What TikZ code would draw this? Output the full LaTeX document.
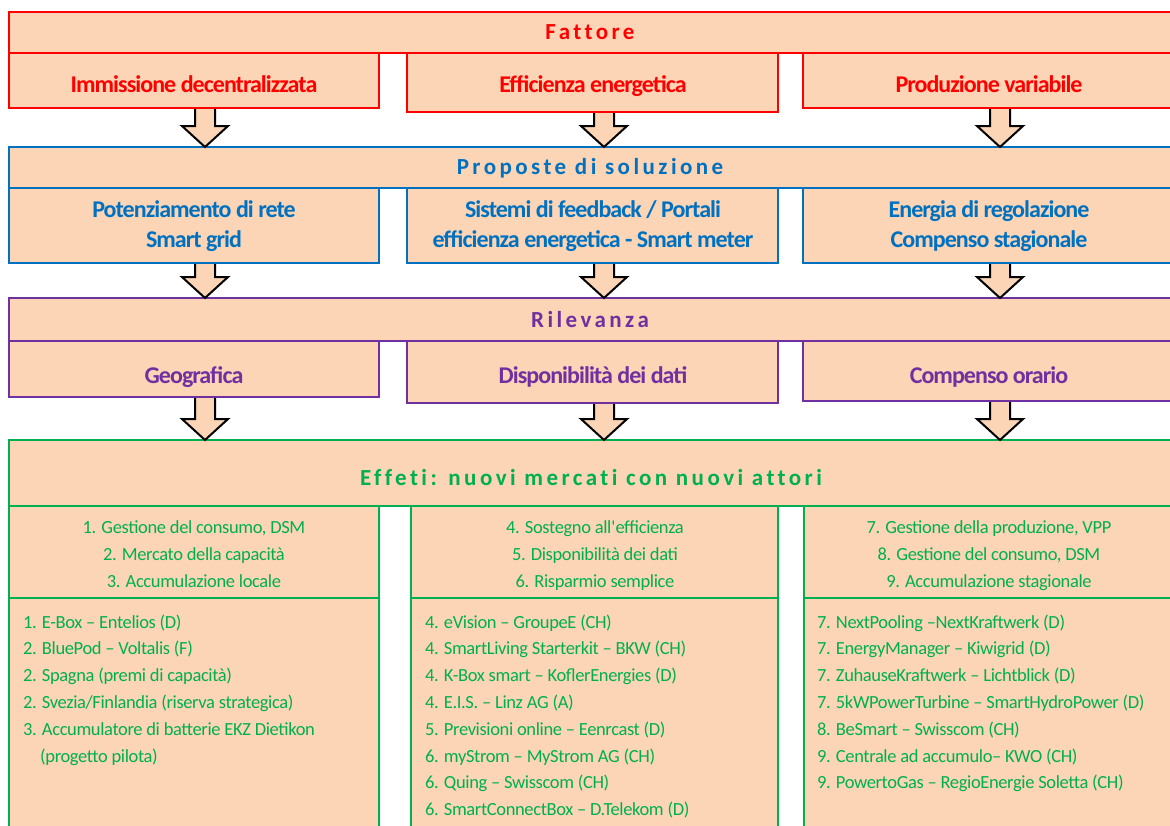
\documentclass[tikz,border=0pt]{standalone}
\usepackage{fontspec}
\setmainfont{Carlito}
\newfontfamily\hdfont[LetterSpace=15,Ligatures=NoCommon]{Carlito}
\newfontfamily\sbfont[LetterSpace=-4]{Carlito}
\newfontfamily\lsfont[LetterSpace=-2]{Carlito}
\usetikzlibrary{calc}
\definecolor{peach}{HTML}{FBD5B5}
\definecolor{cred}{HTML}{FF0000}
\definecolor{cblue}{HTML}{0070C0}
\definecolor{cpurple}{HTML}{7030A0}
\definecolor{cgreen}{HTML}{00B050}
\newcommand{\blockarrow}[3]{%
  \fill[peach] let \p1=(#1 |- #2.south), \p2=(#1 |- #3.north) in
    (\x1-10pt,\y1-1pt) -- (\x1-10pt,\y2+21pt) -- (\x1-23pt,\y2+21pt) -- (\x1,\y2)
    -- (\x1+23pt,\y2+21pt) -- (\x1+10pt,\y2+21pt) -- (\x1+10pt,\y1-1pt) -- cycle;
  \draw[arr] let \p1=(#1 |- #2.south), \p2=(#1 |- #3.north) in
    (\x1-10pt,\y1-1pt) -- (\x1-10pt,\y2+21pt) -- (\x1-23pt,\y2+21pt) -- (\x1,\y2)
    -- (\x1+23pt,\y2+21pt) -- (\x1+10pt,\y2+21pt) -- (\x1+10pt,\y1-1pt);}
\begin{document}
\begin{tikzpicture}[x=1pt,y=-1pt,
  box/.style={draw=#1, fill=peach, line width=2pt, inner sep=0pt, outer sep=0pt, anchor=north west},
  hd/.style={text=#1, font=\hdfont\bfseries\fontsize{23}{27}\selectfont, anchor=base, inner sep=0pt},
  sb/.style={text=#1, font=\sbfont\bfseries\fontsize{24}{30}\selectfont, anchor=base, align=center, inner sep=0pt},
  tl/.style={text=cgreen, font=\lsfont\fontsize{18.5}{27}\selectfont, anchor=base, inner sep=0pt},
  li/.style={text=cgreen, font=\lsfont\fontsize{18.5}{26.8}\selectfont, anchor=base west, inner sep=0pt},
  arr/.style={draw=black, line width=2pt, line join=miter},
]
\useasboundingbox (0,0) rectangle (1170,825);
\clip (0,0) rectangle (1170,825);
\fill[white] (0,0) rectangle (1170,825);

% ---------- Fattore (red)
\node[box=cred, minimum width=370pt, minimum height=55pt] (r1) at (9,53) {};
\node[box=cred, minimum width=371pt, minimum height=59pt] (r2) at (407,53) {};
\node[box=cred, minimum width=372pt, minimum height=55pt] (r3) at (803,53) {};
\node[box=cred, minimum width=1166pt, minimum height=41pt] (fatt) at (9,12) {};
\node[hd=cred] (tfatt) at (590,39) {Fattore};
\node[sb=cred] (tr1) at (194,92) {Immissione decentralizzata};
\node[sb=cred] (tr2) at (593,92) {Efficienza energetica};
\node[sb=cred] (tr3) at (989,92) {Produzione variabile};

% ---------- Proposte (blue)
\node[box=cblue, minimum width=370pt, minimum height=75pt] (b1) at (9,188) {};
\node[box=cblue, minimum width=371pt, minimum height=75pt] (b2) at (407,188) {};
\node[box=cblue, minimum width=372pt, minimum height=75pt] (b3) at (803,188) {};
\node[box=cblue, minimum width=1166pt, minimum height=41pt] (prop) at (9,147) {};
\node[hd=cblue] (tprop) at (590,174) {Proposte di soluzione};
\node[sb=cblue] (tb1) at (194,247) {Potenziamento di rete\\Smart grid};
\node[sb=cblue] (tb2) at (593,247) {Sistemi di feedback / Portali\\efficienza energetica - Smart meter};
\node[sb=cblue] (tb3) at (989,247) {Energia di regolazione\\Compenso stagionale};

% ---------- Rilevanza (purple)
\node[box=cpurple, minimum width=370pt, minimum height=56pt] (p1) at (9,341) {};
\node[box=cpurple, minimum width=371pt, minimum height=62pt] (p2) at (407,341) {};
\node[box=cpurple, minimum width=372pt, minimum height=60pt] (p3) at (803,341) {};
\node[box=cpurple, minimum width=1166pt, minimum height=43pt] (ril) at (9,298) {};
\node[hd=cpurple] (tril) at (590,327) {Rilevanza};
\node[sb=cpurple] (tp1) at (194,383) {Geografica};
\node[sb=cpurple] (tp2) at (593,383) {Disponibilità dei dati};
\node[sb=cpurple] (tp3) at (989,383) {Compenso orario};

% ---------- Effetti (green)
\node[box=cgreen, minimum width=370pt, minimum height=250pt] (g4) at (9,598) {};
\node[box=cgreen, minimum width=367pt, minimum height=250pt] (g5) at (411,598) {};
\node[box=cgreen, minimum width=371pt, minimum height=250pt] (g6) at (804,598) {};
\node[box=cgreen, minimum width=370pt, minimum height=92pt] (g1) at (9,506) {};
\node[box=cgreen, minimum width=367pt, minimum height=92pt] (g2) at (411,506) {};
\node[box=cgreen, minimum width=371pt, minimum height=92pt] (g3) at (804,506) {};
\node[box=cgreen, minimum width=1166pt, minimum height=66pt] (eff) at (9,440) {};
\node[hd=cgreen] (teff) at (591,485) {Effeti: nuovi mercati con nuovi attori};

\foreach \t [count=\i] in {{1. Gestione del consumo, DSM},{2. Mercato della capacità},{3. Accumulazione locale}}
  {\node[tl] (ta\i) at (194,{533+(\i-1)*27}) {\t};}
\foreach \t [count=\i] in {{4. Sostegno all\textquotesingle efficienza},{5. Disponibilità dei dati},{6. Risparmio semplice}}
  {\node[tl] (tb\i) at (595,{533+(\i-1)*27}) {\t};}
\foreach \t [count=\i] in {{7. Gestione della produzione, VPP},{8. Gestione del consumo, DSM},{9. Accumulazione stagionale}}
  {\node[tl] (tc\i) at (989,{533+(\i-1)*27}) {\t};}

\foreach \t [count=\i] in {{1. E-Box – Entelios (D)},{2. BluePod – Voltalis (F)},{2. Spagna (premi di capacità)},{2. Svezia/Finlandia (riserva strategica)},{3. Accumulatore di batterie EKZ Dietikon}}
  {\node[li] (la\i) at (23,{628+(\i-1)*26.8}) {\t};}
\node[li] (la6) at (40,{628+5*26.8}) {(progetto pilota)};
\foreach \t [count=\i] in {{4. eVision – GroupeE (CH)},{4. SmartLiving Starterkit – BKW (CH)},{4. K-Box smart – KoflerEnergies (D)},{4. E.I.S. – Linz AG (A)},{5. Previsioni online – Eenrcast (D)},{6. myStrom – MyStrom AG (CH)},{6. Quing – Swisscom (CH)},{6. SmartConnectBox – D.Telekom (D)}}
  {\node[li] (lb\i) at (425,{628+(\i-1)*26.8}) {\t};}
\foreach \t [count=\i] in {{7. NextPooling –NextKraftwerk (D)},{7. EnergyManager – Kiwigrid (D)},{7. ZuhauseKraftwerk – Lichtblick (D)},{7. 5kWPowerTurbine – SmartHydroPower (D)},{8. BeSmart – Swisscom (CH)},{9. Centrale ad accumulo– KWO (CH)},{9. PowertoGas – RegioEnergie Soletta (CH)}}
  {\node[li] (lc\i) at (817,{628+(\i-1)*26.8}) {\t};}

% ---------- block arrows
\coordinate (ax1) at (205,0);
\coordinate (ax2) at (604,0);
\coordinate (ax3) at (1000,0);
\blockarrow{ax1}{r1}{prop}
\blockarrow{ax2}{r2}{prop}
\blockarrow{ax3}{r3}{prop}
\blockarrow{ax1}{b1}{ril}
\blockarrow{ax2}{b2}{ril}
\blockarrow{ax3}{b3}{ril}
\blockarrow{ax1}{p1}{eff}
\blockarrow{ax2}{p2}{eff}
\blockarrow{ax3}{p3}{eff}
\end{tikzpicture}
\end{document}
